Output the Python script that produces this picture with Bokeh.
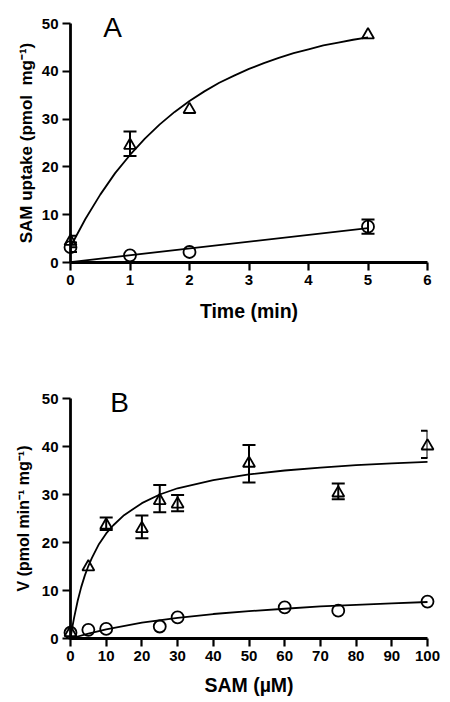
from bokeh.plotting import figure
from bokeh.layouts import column
from bokeh.models import Range1d, FixedTicker, Whisker, TeeHead, ColumnDataSource
from bokeh.core.properties import value
from bokeh.embed import file_html
from bokeh.resources import INLINE

# ---------------- Panel A: SAM uptake vs time ----------------
time_min = [0, 1, 2, 5]
uptake_tri = [4.4, 24.5, 32.0, 47.6]
uptake_circ = [3.2, 1.5, 2.2, 7.5]
tri_err_time = [0, 1]
tri_err_upper = [5.6, 27.4]
tri_err_lower = [3.2, 22.3]
circ_err_time = [0, 5]
circ_err_upper = [4.2, 9.0]
circ_err_lower = [2.2, 6.0]
fit_time_tri = [0, 0.25, 0.5, 0.75, 1, 1.25, 1.5, 1.75, 2, 2.25, 2.5, 2.75, 3,
                3.25, 3.5, 3.75, 4, 4.25, 4.5, 4.75, 5]
fit_uptake_tri = [3.3, 9.1, 14.2, 18.7, 22.5, 25.9, 28.9, 31.5, 33.8, 35.8, 37.6, 39.1, 40.5,
                  41.7, 42.8, 43.8, 44.6, 45.4, 46.0, 46.6, 47.1]
fit_time_circ = [0, 5]
fit_uptake_circ = [0.1, 7.2]
time_ticks = [0, 1, 2, 3, 4, 5, 6]
uptake_ticks = [0, 10, 20, 30, 40, 50]

# ---------------- Panel B: V vs SAM concentration ----------------
sam_tri = [0, 5, 10, 20, 25, 30, 50, 75, 100]
v_tri = [1.2, 14.9, 23.6, 22.9, 28.7, 28.0, 36.5, 30.3, 40.1]
tri_err_sam = [10, 20, 25, 30, 50, 75, 100]
tri_err_upper_b = [25.2, 25.6, 32.0, 29.9, 40.3, 32.3, 43.3]
tri_err_lower_b = [22.6, 20.9, 26.3, 26.5, 32.5, 29.0, 37.6]
sam_circ = [0, 5, 10, 25, 30, 60, 75, 100]
v_circ = [1.2, 1.8, 2.0, 2.5, 4.4, 6.5, 5.8, 7.7]
fit_sam_tri = [0, 0.5, 1, 2, 3, 4, 5, 6, 8, 10, 12, 15, 20, 25, 30, 40, 50, 60, 70, 80, 90, 100]
fit_v_tri = [0, 2.3, 4.3, 7.8, 10.7, 13.1, 15.1, 16.8, 19.7, 21.9, 23.6, 25.7, 28.2, 30.0, 31.3,
             33.0, 34.2, 35.0, 35.6, 36.1, 36.5, 36.8]
fit_sam_circ = [0, 5, 10, 20, 30, 40, 50, 60, 70, 80, 90, 100]
fit_v_circ = [0, 1.0, 1.9, 3.3, 4.3, 5.1, 5.7, 6.2, 6.7, 7.0, 7.3, 7.6]
sam_ticks = [0, 10, 20, 30, 40, 50, 60, 70, 80, 90, 100]
v_ticks = [0, 10, 20, 30, 40, 50]

FONT = "Liberation Sans"
BLACK = "#000000"


def base_fig(height, xr, yr, xticks, yticks, xlabel, ylabel, left, right, top, bottom,
             ylab_standoff, xlab_standoff, ylab_size):
    p = figure(width=450, height=height, x_range=Range1d(*xr), y_range=Range1d(*yr),
               output_backend="svg", toolbar_location=None,
               min_border_left=left, min_border_right=right,
               min_border_top=top, min_border_bottom=bottom)
    p.outline_line_color = None
    p.grid.visible = False
    p.background_fill_color = "white"
    p.border_fill_color = "white"
    p.xaxis.ticker = FixedTicker(ticks=xticks)
    p.yaxis.ticker = FixedTicker(ticks=yticks)
    p.xaxis.axis_label = xlabel
    p.yaxis.axis_label = ylabel
    for ax in (p.xaxis, p.yaxis):
        ax.axis_line_width = 2.8
        ax.axis_line_color = BLACK
        ax.major_tick_line_width = 2.2
        ax.major_tick_line_color = BLACK
        ax.major_tick_out = 8
        ax.major_tick_in = 0
        ax.minor_tick_line_color = None
        ax.major_label_text_font = FONT
        ax.major_label_text_font_style = "bold"
        ax.major_label_text_font_size = "15px"
        ax.major_label_text_color = BLACK
        ax.major_label_standoff = 4
        ax.axis_label_text_font = FONT
        ax.axis_label_text_font_style = "bold"
        ax.axis_label_text_color = BLACK
    p.xaxis.axis_label_text_font_size = "19.5px"
    p.yaxis.axis_label_text_font_size = ylab_size
    p.yaxis.axis_label_standoff = ylab_standoff
    p.xaxis.axis_label_standoff = xlab_standoff
    return p


def add_series(p, x, y, marker):
    r = p.scatter(x, y, marker=marker, size=12, fill_color=None, line_color=BLACK, line_width=1.8)
    r.level = "overlay"


def add_fit(p, x, y):
    r = p.line(x, y, line_color=BLACK, line_width=1.8)
    r.level = "overlay"


def add_err(p, x, up, lo):
    src = ColumnDataSource(data=dict(x=x, upper=up, lower=lo))
    w = Whisker(source=src, base="x", upper="upper", lower="lower",
                line_color=BLACK, line_width=2,
                upper_head=TeeHead(size=13, line_width=2, line_color=BLACK),
                lower_head=TeeHead(size=13, line_width=2, line_color=BLACK))
    w.level = "overlay"
    p.add_layout(w)


def add_panel_letter(p, x, y, letter):
    r = p.text(x=[x], y=[y], text=[letter], text_font=value(FONT), text_font_size=value("28px"),
               text_color=BLACK, text_align="left", text_baseline="alphabetic")
    r.level = "overlay"


# Panel A
pA = base_fig(338, (0, 6), (0, 50), time_ticks, uptake_ticks, "Time (min)",
              "SAM uptake (pmol\u00a0 mg\u207b\u00b9)", 67, 23, 23, 76, 3, 12, "17px")
add_fit(pA, fit_time_tri, fit_uptake_tri)
add_fit(pA, fit_time_circ, fit_uptake_circ)
add_err(pA, tri_err_time, tri_err_upper, tri_err_lower)
add_err(pA, circ_err_time, circ_err_upper, circ_err_lower)
add_series(pA, time_min, uptake_tri, "triangle")
add_series(pA, time_min, uptake_circ, "circle")
add_panel_letter(pA, 0.55, 49.2, "A")

# Panel B
pB = base_fig(364, (0, 100), (0, 50), sam_ticks, v_ticks, "SAM (\u00b5M)",
              "V (pmol min\u207b\u00b9 mg\u207b\u00b9)", 70, 21, 60, 64, 7, 10, "16px")
add_fit(pB, fit_sam_tri, fit_v_tri)
add_fit(pB, fit_sam_circ, fit_v_circ)
add_err(pB, tri_err_sam, tri_err_upper_b, tri_err_lower_b)
add_series(pB, sam_tri, v_tri, "triangle")
add_series(pB, sam_circ, v_circ, "circle")
add_panel_letter(pB, 11.1, 49.2, "B")

layout = column(pA, pB, spacing=0)
open("out.html", "w").write(file_html(layout, INLINE))
